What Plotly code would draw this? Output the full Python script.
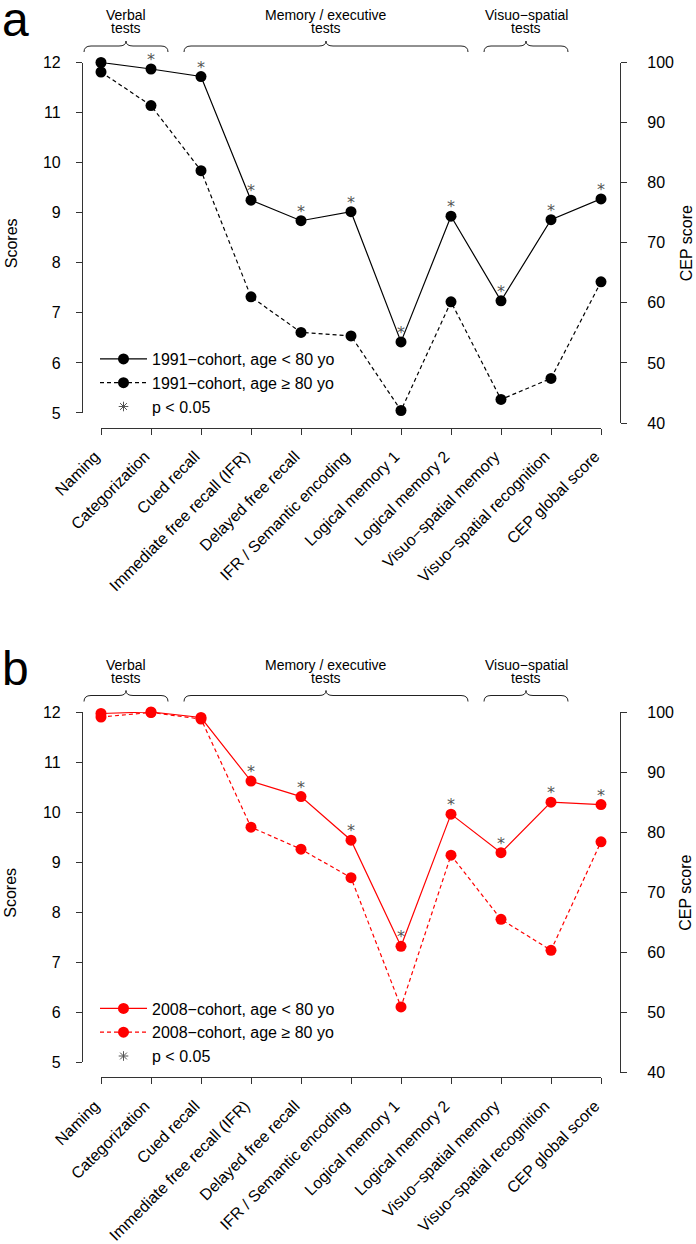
import plotly.graph_objects as go

# ---- data ----------------------------------------------------------------
categories = [
    "Naming", "Categorization", "Cued recall", "Immediate free recall (IFR)",
    "Delayed free recall", "IFR / Semantic encoding", "Logical memory 1",
    "Logical memory 2", "Visuo−spatial memory", "Visuo−spatial recognition",
    "CEP global score",
]

# scores (0-12 scale) for the ten tests, CEP global score on its own 0-100 scale
a_young = [12.0, 11.87, 11.72, 9.25, 8.84, 9.02, 6.42, 8.93, 7.24, 8.86]
a_young_cep = 77.3
a_old = [11.81, 11.14, 9.84, 7.32, 6.61, 6.54, 5.05, 7.22, 5.27, 5.69]
a_old_cep = 63.5
a_sig = [0, 1, 1, 1, 1, 1, 1, 1, 1, 1, 1]

b_young = [11.97, 12.0, 11.89, 10.62, 10.31, 9.44, 7.32, 9.96, 9.19, 10.20]
b_young_cep = 84.6
b_old = [11.90, 11.99, 11.86, 9.70, 9.26, 8.69, 6.11, 9.14, 7.86, 7.24]
b_old_cep = 78.4
b_sig = [0, 0, 0, 1, 1, 1, 1, 1, 1, 1, 1]

score_ticks = [5, 6, 7, 8, 9, 10, 11, 12]
cep_ticks = [40, 50, 60, 70, 80, 90, 100]

groups = [
    ("Verbal", "tests", 0, 1),
    ("Memory / executive", "tests", 2, 7),
    ("Visuo−spatial", "tests", 8, 9),
]

panels = [
    dict(letter="a", color="black", cohort="1991",
         young=a_young, young_cep=a_young_cep, old=a_old, old_cep=a_old_cep, sig=a_sig),
    dict(letter="b", color="#ff0000", cohort="2008",
         young=b_young, young_cep=b_young_cep, old=b_old, old_cep=b_old_cep, sig=b_sig),
]

# CEP score is drawn on the 12-point scale (100 -> 12)
CEP_TO_SCORE = 12 / 100

# ---- geometry (pixels) ---------------------------------------------------
W, H = 696, 1244
X_LEFT, X_RIGHT = 82, 620          # left / right axis lines
X_FIRST, X_STEP = 101, 50          # first category, spacing
X_AXIS_PX = 427.7                  # bottom axis line
Y12_PX, PX_PER_UNIT = 62.5, 50.07  # score 12 row, px per score unit
PANEL_OFFSET = 649.5
FONT = "Liberation Sans, Arial, sans-serif"
LINE_COL = "#333333"


def px_x(p):
    return p / W


def px_y(p):
    return 1 - p / H


def score_px(v):
    # pixel row of a score value inside panel a
    return Y12_PX + (12 - v) * PX_PER_UNIT


n = len(categories)
axis_common = dict(showline=True, linecolor=LINE_COL, linewidth=1.2, showgrid=False,
                   zeroline=False, automargin=False, ticks="outside", ticklen=6,
                   tickcolor=LINE_COL, tickwidth=1.2,
                   tickfont=dict(family=FONT, size=16, color="black"))

fig = go.Figure()
shapes, annotations = [], []
layout = {}

for k, p in enumerate(panels):
    off = k * PANEL_OFFSET
    xa = "x" if k == 0 else "x2"
    ya_left = "y" if k == 0 else "y3"
    ya_right = "y2" if k == 0 else "y4"
    leg = "legend" if k == 0 else "legend2"
    col = p["color"]

    y_young = p["young"] + [p["young_cep"] * CEP_TO_SCORE]
    y_old = p["old"] + [p["old_cep"] * CEP_TO_SCORE]

    fig.add_trace(go.Scatter(
        x=categories, y=y_young, mode="lines+markers", cliponaxis=False,
        line=dict(color=col, width=1.2), marker=dict(color=col, size=11),
        name=f"{p['cohort']}−cohort, age < 80 yo", xaxis=xa, yaxis=ya_left, legend=leg,
    ))
    fig.add_trace(go.Scatter(
        x=categories, y=y_old, mode="lines+markers", cliponaxis=False,
        line=dict(color=col, width=1.2, dash="4px,3px"), marker=dict(color=col, size=11),
        name=f"{p['cohort']}−cohort, age ≥ 80 yo", xaxis=xa, yaxis=ya_left, legend=leg,
    ))
    # significance asterisks above the < 80 yo points
    sx = [c for c, s in zip(categories, p["sig"]) if s]
    sy = [v for v, s in zip(y_young, p["sig"]) if s]
    fig.add_trace(go.Scatter(
        x=sx, y=sy, mode="text", text=["*"] * len(sx), textposition="top center",
        cliponaxis=False, textfont=dict(family="DejaVu Sans", size=16, color="#555555"),
        showlegend=False, hoverinfo="skip", xaxis=xa, yaxis=ya_left,
    ))
    # legend-only entry for the asterisk
    fig.add_trace(go.Scatter(
        x=[None], y=[None], mode="markers", name="p < 0.05",
        marker=dict(symbol="asterisk-open", size=8, color="#555555", line=dict(width=1, color="#555555")),
        xaxis=xa, yaxis=ya_left, legend=leg,
    ))
    # empty trace so the CEP axis gets drawn
    fig.add_trace(go.Scatter(x=[None], y=[None], showlegend=False, hoverinfo="skip",
                             xaxis=xa, yaxis=ya_right))

    xkey = "xaxis" if k == 0 else "xaxis2"
    ylk = "yaxis" if k == 0 else "yaxis3"
    yrk = "yaxis2" if k == 0 else "yaxis4"
    # axes span exactly first..last tick, like base R
    layout[xkey] = dict(
        axis_common,
        domain=[px_x(X_FIRST), px_x(X_FIRST + (n - 1) * X_STEP)],
        anchor="free", position=px_y(X_AXIS_PX + off), range=[0, n - 1],
        type="category", categoryorder="array", categoryarray=categories,
        tickangle=-45, ticklabelstandoff=6, ticklabelshift=-6,
    )
    layout[ylk] = dict(
        axis_common,
        domain=[px_y(score_px(score_ticks[0]) + off), px_y(score_px(score_ticks[-1]) + off)],
        anchor="free", position=px_x(X_LEFT), range=[score_ticks[0], score_ticks[-1]],
        tickvals=score_ticks, ticklabelstandoff=12,
    )
    layout[yrk] = dict(
        axis_common,
        domain=[px_y(score_px(cep_ticks[0] * CEP_TO_SCORE) + off),
                px_y(score_px(cep_ticks[-1] * CEP_TO_SCORE) + off)],
        anchor="free", position=px_x(X_RIGHT), side="right",
        range=[cep_ticks[0], cep_ticks[-1]], tickvals=cep_ticks, ticklabelstandoff=17,
    )
    layout[leg] = dict(
        x=px_x(95), y=px_y(342 + off), xanchor="left", yanchor="top",
        bgcolor="rgba(0,0,0,0)", font=dict(family=FONT, size=16, color="black"),
        tracegroupgap=0, itemwidth=47,
    )

    # curly braces + group labels
    y_end, y_mid, y_tip = px_y(52 + off), px_y(46 + off), px_y(41 + off)
    r = px_x(7)
    for top, bottom, i0, i1 in groups:
        x0 = px_x(X_FIRST + (i0 - 0.34) * X_STEP)
        x1 = px_x(X_FIRST + (i1 + 0.34) * X_STEP)
        m = px_x(X_FIRST + (i0 + i1) / 2 * X_STEP)
        path = (f"M {x0},{y_end} Q {x0},{y_mid} {x0 + r},{y_mid} L {m - r},{y_mid} "
                f"Q {m},{y_mid} {m},{y_tip} Q {m},{y_mid} {m + r},{y_mid} "
                f"L {x1 - r},{y_mid} Q {x1},{y_mid} {x1},{y_end}")
        shapes.append(dict(type="path", xref="paper", yref="paper", path=path,
                           line=dict(color="#222", width=1)))
        for txt, ypx in ((top, 15), (bottom, 28)):
            annotations.append(dict(x=m, y=px_y(ypx + off), xref="paper", yref="paper", text=txt,
                                    showarrow=False, xanchor="center", yanchor="middle",
                                    font=dict(family=FONT, size=14, color="black")))

    # axis titles
    mid = (Y12_PX + 424) / 2 + off
    annotations.append(dict(x=px_x(11), y=px_y(mid), xref="paper", yref="paper", text="Scores",
                            textangle=-90, showarrow=False, xanchor="center", yanchor="middle",
                            font=dict(family=FONT, size=16, color="black")))
    annotations.append(dict(x=px_x(686), y=px_y(mid), xref="paper", yref="paper", text="CEP score",
                            textangle=-90, showarrow=False, xanchor="center", yanchor="middle",
                            font=dict(family=FONT, size=16, color="black")))
    # panel letter
    annotations.append(dict(x=px_x(0), y=px_y(19 + off), xref="paper", yref="paper", text=p["letter"],
                            showarrow=False, xanchor="left", yanchor="middle",
                            font=dict(family=FONT, size=48, color="black")))

# transparent plot background: the empty CEP subplot must not paint over the data
fig.update_layout(
    width=W, height=H, margin=dict(l=0, r=0, t=0, b=0, autoexpand=False),
    plot_bgcolor="rgba(0,0,0,0)", paper_bgcolor="white",
    shapes=shapes, annotations=annotations, hovermode=False,
    **layout,
)

# the page's default body margin would shift the figure by 8 px
fig.write_html("out.html", config={"displayModeBar": False},
               post_script="document.body.style.margin = '0px';")
